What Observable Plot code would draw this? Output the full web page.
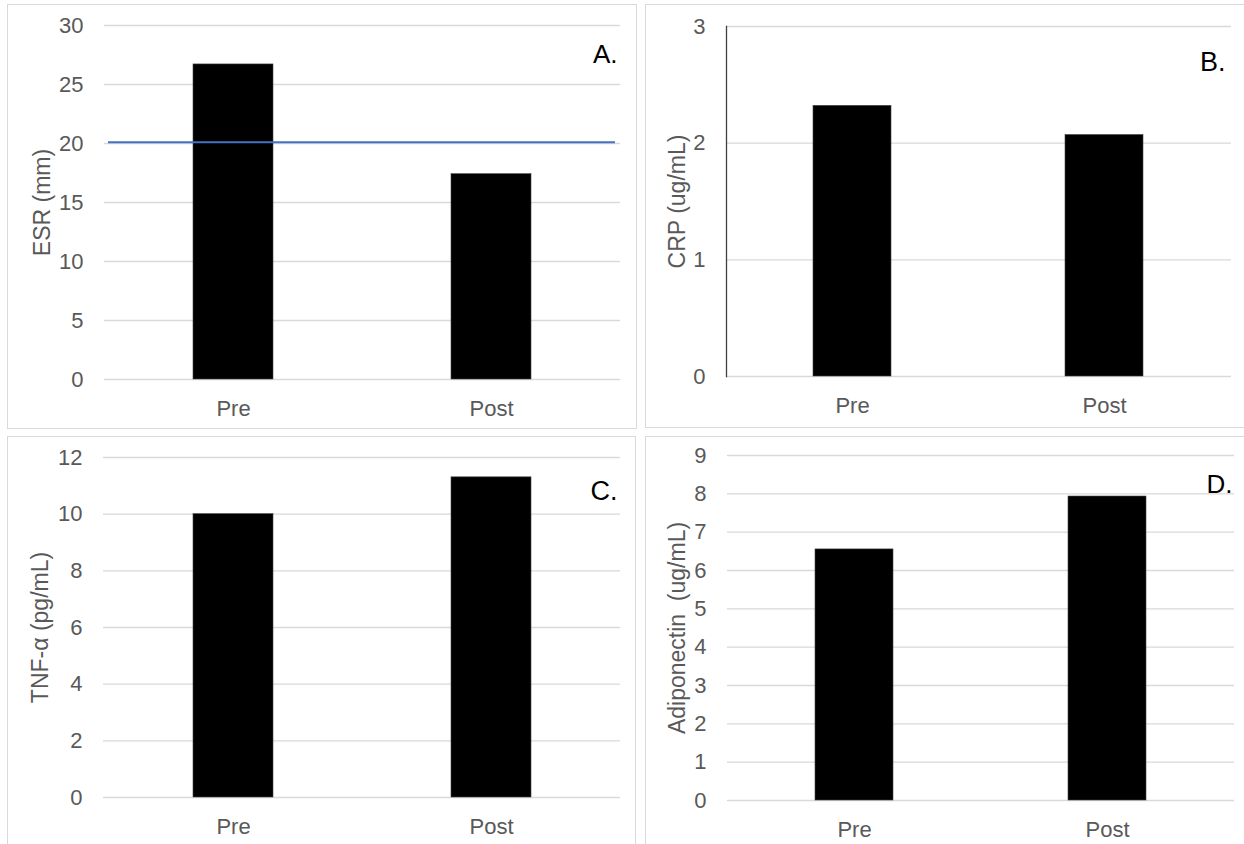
<!DOCTYPE html>
<html><head><meta charset="utf-8">
<script src="https://cdn.jsdelivr.net/npm/d3@7"></script>
<script src="https://cdn.jsdelivr.net/npm/@observablehq/plot@0.6"></script>
<style>
html,body{margin:0;padding:0;background:#fff;overflow:hidden;width:1244px;height:844px;}
#root{position:relative;width:1244px;height:844px;overflow:hidden;background:#fff;}
.panel{position:absolute;border:1px solid #d9d9d9;box-sizing:border-box;}
.plot{position:absolute;}
</style></head><body><div id="root"></div>
<script>
const categories = ["Pre", "Post"];
const esrValues = [26.7, 17.4];
const esrReference = [20.1];
const crpValues = [2.32, 2.07];
const tnfValues = [10.0, 11.3];
const adiponectinValues = [6.55, 7.93];
const esrTicks = [0, 5, 10, 15, 20, 25, 30];
const crpTicks = [0, 1, 2, 3];
const tnfTicks = [0, 2, 4, 6, 8, 10, 12];
const adiponectinTicks = [0, 1, 2, 3, 4, 5, 6, 7, 8, 9];
const panelLetters = ["A.", "B.", "C.", "D."];
const axisTitles = ["ESR (mm)", "CRP (ug/mL)", "TNF-α (pg/mL)", "Adiponectin\u00a0 (ug/mL)"];

const root = document.getElementById("root");
const FONT = "'Liberation Sans', Arial, Helvetica, sans-serif";

function addBox(b) {
  const d = document.createElement("div");
  d.className = "panel";
  Object.assign(d.style, {left: b.left + "px", top: b.top + "px", width: b.width + "px", height: b.height + "px"});
  root.appendChild(d);
}

function panel(cfg) {
  addBox(cfg.box);
  const data = categories.map((c, i) => ({category: c, value: cfg.values[i]}));
  const ticks = cfg.ticks;
  const marks = [
    Plot.gridY(ticks, {stroke: "#d9d9d9", strokeOpacity: 1, strokeWidth: 1.3}),
    Plot.axisY(ticks, {tickSize: 0, tickPadding: 21, fontSize: 22, fill: "#595959", tickFormat: d => String(d)}),
    Plot.axisX({tickSize: 0, tickPadding: 21, fontSize: 22, fill: "#595959"}),
    Plot.barY(data, {x: "category", y: "value", fill: "black", stroke: "#444", strokeWidth: 0.6}),
    Plot.text([cfg.title], {text: d => d, frameAnchor: "left", textAnchor: "middle", dx: cfg.titleDx, rotate: -90, fontSize: 23, fill: "#595959"}),
    Plot.text([cfg.letter], {text: d => d, frameAnchor: "top-right", textAnchor: "end", dx: cfg.letterDx, dy: cfg.letterDy, fontSize: cfg.letterSize, fill: "black"})
  ];
  if (cfg.extra) marks.push(...cfg.extra);
  const svg = Plot.plot({
    width: cfg.svg.width,
    height: cfg.svg.height,
    marginTop: cfg.m[0], marginRight: cfg.m[1], marginBottom: cfg.m[2], marginLeft: cfg.m[3],
    x: {domain: categories, paddingInner: 0.69, paddingOuter: 0.345, label: null},
    y: {domain: [ticks[0], ticks[ticks.length - 1]], label: null},
    style: {fontFamily: FONT, fontSize: "22px", color: "#595959", background: "transparent", overflow: "visible"},
    marks
  });
  svg.classList.add("plot");
  svg.style.left = cfg.svg.left + "px";
  svg.style.top = cfg.svg.top + "px";
  root.appendChild(svg);
}

panel({
  box: {left: 7, top: 4, width: 630, height: 425},
  svg: {left: 7, top: 4, width: 630, height: 425},
  m: [21, 17, 50, 97],
  values: esrValues, ticks: esrTicks, title: axisTitles[0], titleDx: -62,
  letter: panelLetters[0], letterDx: -3, letterDy: 19, letterSize: 26,
  extra: [Plot.ruleY(esrReference, {stroke: "#4472C4", strokeWidth: 2, insetLeft: 4, insetRight: 5})]
});

panel({
  box: {left: 645, top: 4, width: 620, height: 424},
  svg: {left: 645, top: 4, width: 599, height: 424},
  m: [22, 13, 52, 81],
  values: crpValues, ticks: crpTicks, title: axisTitles[1], titleDx: -49,
  letter: panelLetters[1], letterDx: -6, letterDy: 25, letterSize: 27,
  extra: [Plot.frame({anchor: "left", stroke: "#404040", strokeWidth: 1.3})]
});

panel({
  box: {left: 7, top: 436, width: 629, height: 430},
  svg: {left: 7, top: 436, width: 629, height: 408},
  m: [21, 16, 47, 96],
  values: tnfValues, ticks: tnfTicks, title: axisTitles[2], titleDx: -63,
  letter: panelLetters[2], letterDx: -3, letterDy: 23, letterSize: 27
});

panel({
  box: {left: 645, top: 436, width: 620, height: 430},
  svg: {left: 645, top: 436, width: 599, height: 408},
  m: [19, 10, 44, 82],
  values: adiponectinValues, ticks: adiponectinTicks, title: axisTitles[3], titleDx: -50,
  letter: panelLetters[3], letterDx: -2, letterDy: 19, letterSize: 26
});
</script></body></html>
